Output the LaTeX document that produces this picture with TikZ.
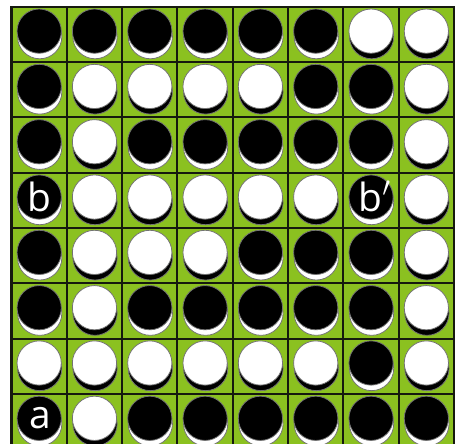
\documentclass[tikz,border=0pt]{standalone}
\usepackage{xcolor}
\usepackage{fontspec}
\newfontfamily\lblfont{Open Sans}
\usepackage{tikz}
\definecolor{felt}{RGB}{139,193,32}
\definecolor{gridline}{RGB}{22,26,14}
% face and shadow colours of the two kinds of piece
\colorlet{pb}{black}
\colorlet{sb}{white}
\colorlet{pw}{white}
\colorlet{sw}{black}
\tikzset{
  board/.style  ={fill=felt},
  lines/.style  ={draw=gridline, line width=1pt},
  rim/.style    ={draw=black!55, line width=0.4pt},
  lbl/.style    ={text=white, inner sep=0pt, font=\lblfont\fontsize{20}{20}\selectfont},
}

\begin{document}
\begin{tikzpicture}
  \clip (-0.208,0.112) rectangle (8.036,8.123);
  \useasboundingbox (-0.208,0.112) rectangle (8.036,8.123);

  % board and squares
  \fill[board] (0,0) rectangle (8,8);
  \draw[lines] (0,0) grid (8,8);
  \draw[lines, line width=1.3pt] (0,0) rectangle (8,8);

  % pieces, row by row from the top
  \foreach \row/\pieces in {8/{b,b,b,b,b,b,w,w}, 7/{b,w,w,w,w,b,b,w},
                            6/{b,w,b,b,b,b,b,w}, 5/{b,w,w,w,w,w,b,w},
                            4/{b,w,w,w,b,b,b,w}, 3/{b,w,b,b,b,b,b,w},
                            2/{w,w,w,w,w,w,b,w}, 1/{b,w,b,b,b,b,b,b}}{
    \foreach \p [count=\col] in \pieces {
      \filldraw[rim, fill=s\p] (\col-0.49,\row-0.54) circle (0.40);
      \filldraw[rim, fill=p\p] (\col-0.5,\row-0.44) circle (0.40);
    }
  }

  % marked pieces
  \node[lbl] (a)      at (0.52,0.56) {a};
  \node[lbl] (b)      at (0.5,4.57) {b};
  \node[lbl] (bprime) at (6.57,4.57) {b$'$};
\end{tikzpicture}
\end{document}
